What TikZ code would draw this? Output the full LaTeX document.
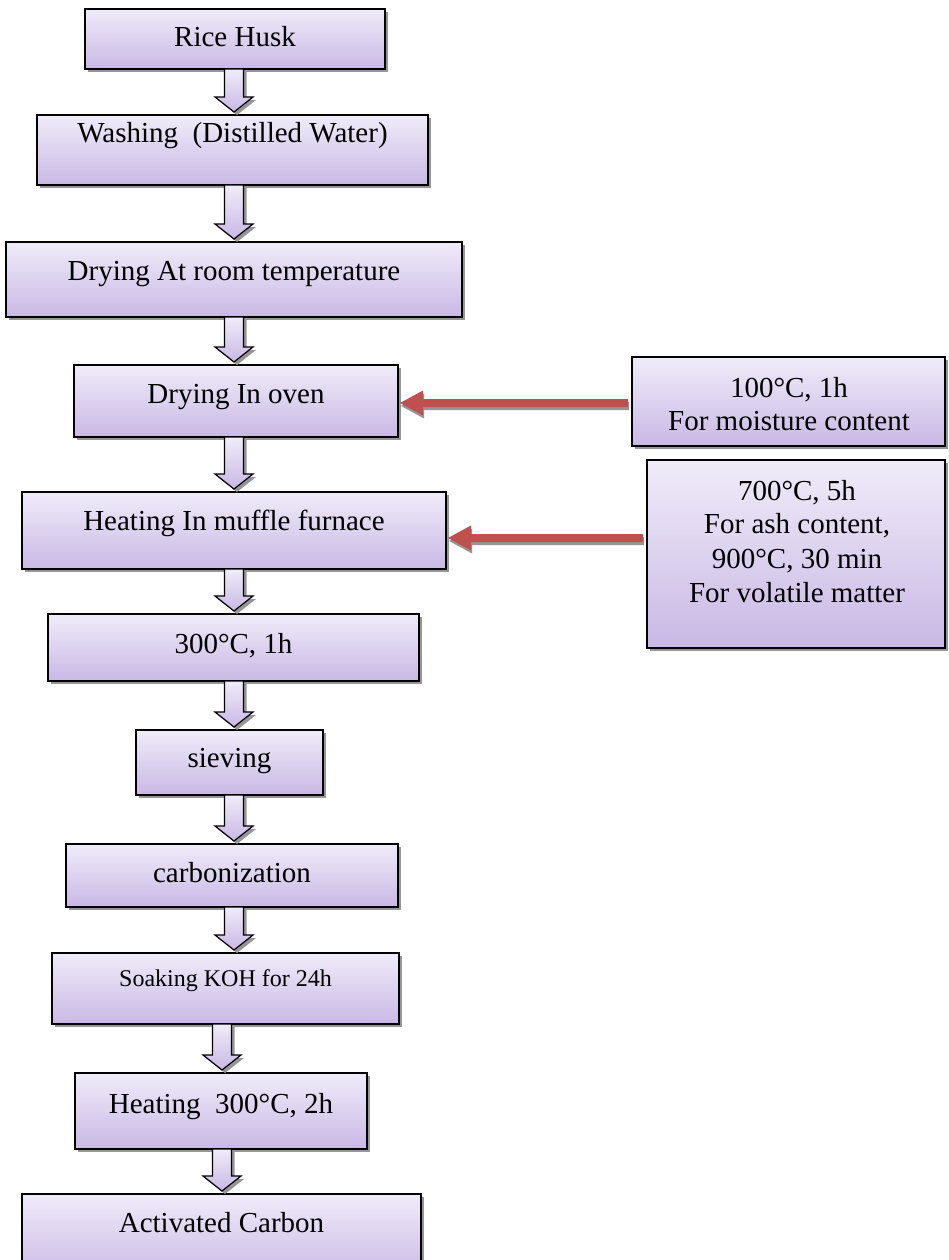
\documentclass[tikz,border=0pt]{standalone}
\usepackage{fontspec}
\setmainfont{Liberation Serif}
\usetikzlibrary{calc,shadows}
\definecolor{boxtop}{RGB}{240,236,249}
\definecolor{boxmid}{RGB}{224,214,242}
\definecolor{boxbot}{RGB}{201,184,229}
\definecolor{shadowgray}{RGB}{150,150,150}
\definecolor{redarrow}{RGB}{192,80,77}
\tikzset{
  box/.style={draw=black, line width=1.3pt, top color=boxtop, middle color=boxmid, bottom color=boxbot,
    drop shadow={shadow xshift=3pt, shadow yshift=-3pt, fill=shadowgray, opacity=1},
    inner sep=0pt, outer sep=0pt},
  txt/.style={font=\fontsize{29}{34}\selectfont, inner sep=0pt, anchor=base},
  smalltxt/.style={font=\fontsize{24}{28}\selectfont, inner sep=0pt, anchor=base},
  barrow/.style={draw=black, line width=1.2pt, top color=boxtop, bottom color=boxbot, line join=miter},
  bshadow/.style={fill=shadowgray, transform canvas={xshift=3pt, yshift=-3pt}},
  rarrow/.style={fill=redarrow},
  rshadow/.style={fill=shadowgray, transform canvas={xshift=1pt, yshift=-3pt}}
}
% down block arrow path: upper node, lower node, x centre
\newcommand{\dnpath}[3]{let \p1=(#1.south), \p2=(#2.north) in
  (#3pt-9.5pt,\y1) -- (#3pt+9.5pt,\y1) -- (#3pt+9.5pt,\y2+18pt) -- (#3pt+19pt,\y2+18pt)
  -- (#3pt,\y2+3pt) -- (#3pt-19pt,\y2+18pt) -- (#3pt-9.5pt,\y2+18pt) -- cycle}
% red arrow path: tip anchor, tail anchor, vertical offset
\newcommand{\redpath}[3]{let \p1=(#1), \p2=(#2) in
  (\x1+2pt,\y1+#3) -- (\x1+25pt,\y1+#3+12.5pt) -- (\x1+25pt,\y1+#3+4pt) -- (\x2-4pt,\y1+#3+4pt)
  -- (\x2-4pt,\y1+#3-4pt) -- (\x1+25pt,\y1+#3-4pt) -- (\x1+25pt,\y1+#3-12.5pt) -- cycle}
\newcommand{\blockarrow}[3]{%
  \path[bshadow] \dnpath{#1}{#2}{#3};
  \path[barrow] \dnpath{#1}{#2}{#3};}
\begin{document}
\begin{tikzpicture}[x=1pt,y=1pt]
\useasboundingbox (0,0) rectangle (948,-1260);
\clip (0,0) rectangle (948,-1260);
% main boxes
\node[box, minimum width=300pt, minimum height=60pt] (b1) at (235,-39) {};
\node[box, minimum width=391pt, minimum height=70pt] (b2) at (232.5,-150) {};
\node[box, minimum width=456pt, minimum height=75pt] (b3) at (234,-279.5) {};
\node[box, minimum width=324pt, minimum height=72pt] (b4) at (236,-401) {};
\node[box, minimum width=424pt, minimum height=77pt] (b5) at (234,-530.5) {};
\node[box, minimum width=371pt, minimum height=67pt] (b6) at (233.5,-647.5) {};
\node[box, minimum width=187pt, minimum height=65pt] (b7) at (229.5,-762.5) {};
\node[box, minimum width=332pt, minimum height=63pt] (b8) at (232,-875.5) {};
\node[box, minimum width=347pt, minimum height=71pt] (b9) at (225.5,-988.5) {};
\node[box, minimum width=292pt, minimum height=76pt] (b10) at (221,-1111) {};
\node[box, minimum width=399pt, minimum height=86pt] (b11) at (221.5,-1237) {};
% side boxes
\node[box, minimum width=313pt, minimum height=89pt] (s1) at (788.5,-401.5) {};
\node[box, minimum width=298pt, minimum height=188pt] (s2) at (796,-554) {};
% texts
\node[txt] (t1) at (235,-47) {Rice Husk};
\node[txt] (t2) at (232.5,-143) {Washing\ \ (Distilled Water)};
\node[txt] (t3) at (234,-280) {Drying At room temperature};
\node[txt] (t4) at (236,-403) {Drying In oven};
\node[txt] (t5) at (234,-530) {Heating In muffle furnace};
\node[txt] (t6) at (233.5,-653) {300°C, 1h};
\node[txt] (t7) at (229.5,-767) {sieving};
\node[txt] (t8) at (232,-882) {carbonization};
\node[smalltxt] (t9) at (225.5,-986) {Soaking KOH for 24h};
\node[txt] (t10) at (221,-1113) {Heating\ \ 300°C, 2h};
\node[txt] (t11) at (221.5,-1232) {Activated Carbon};
\node[txt] (s1a) at (789,-397) {100°C, 1h};
\node[txt] (s1b) at (789,-430) {For moisture content};
\node[txt] (s2a) at (797,-500) {700°C, 5h};
\node[txt] (s2b) at (797,-533) {For ash content,};
\node[txt] (s2c) at (797,-568) {900°C, 30 min};
\node[txt] (s2d) at (797,-602) {For volatile matter};
% down block arrows
\blockarrow{b1}{b2}{234}
\blockarrow{b2}{b3}{234}
\blockarrow{b3}{b4}{234}
\blockarrow{b4}{b5}{234}
\blockarrow{b5}{b6}{234}
\blockarrow{b6}{b7}{234}
\blockarrow{b7}{b8}{234}
\blockarrow{b8}{b9}{234}
\blockarrow{b9}{b10}{222}
\blockarrow{b10}{b11}{222}
% red arrows
\path[rshadow] \redpath{b4.east}{s1.west}{-2pt};
\path[rarrow] \redpath{b4.east}{s1.west}{-2pt};
\path[rshadow] \redpath{b5.east}{s2.west}{-7.5pt};
\path[rarrow] \redpath{b5.east}{s2.west}{-7.5pt};
\end{tikzpicture}
\end{document}
